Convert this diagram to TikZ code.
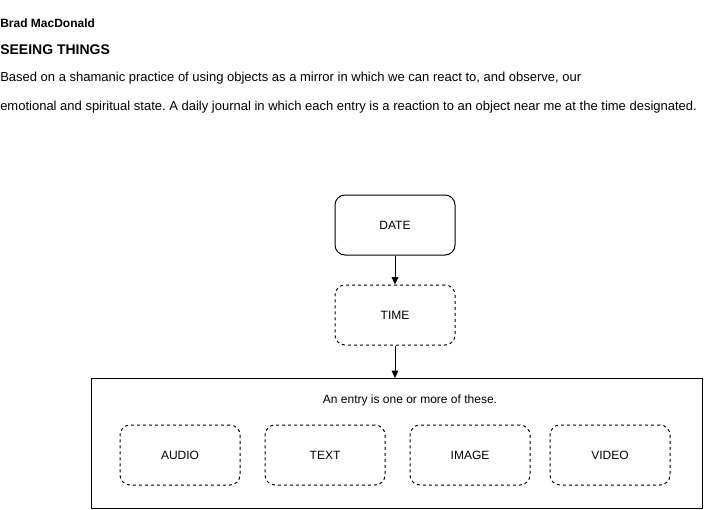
\documentclass[tikz,border=0pt]{standalone}
\usepackage{fontspec}
\setmainfont{Liberation Sans}
\usetikzlibrary{arrows.meta}
\frenchspacing
\begin{document}
\begin{tikzpicture}[x=0.75pt,y=-0.75pt,
  box/.style={draw,rounded corners=7.5pt,minimum width=90pt,minimum height=45pt,inner sep=0pt,font=\fontsize{9}{11}\selectfont,line width=0.75pt},
  dbox/.style={box,dashed,dash pattern=on 2.25pt off 2.25pt},
  arr/.style={-{Triangle[length=5.5pt,width=5pt]},line width=0.75pt},
  txt/.style={anchor=west,inner sep=0pt}]
\useasboundingbox (0,0) rectangle (721,510);
\node[txt,font=\fontsize{9}{11}\selectfont\bfseries] (author) at (0,23) {Brad MacDonald};
\node[txt,font=\fontsize{10.5}{12}\selectfont\bfseries] (title) at (0,50) {SEEING THINGS};
\node[txt,font=\fontsize{9.75}{12}\selectfont] (l1) at (0,78) {Based on a shamanic practice of using objects as a mirror in which we can react to, and observe, our};
\node[txt,font=\fontsize{9.75}{12}\selectfont] (l2) at (0,107) {emotional and spiritual state. A daily journal in which each entry is a reaction to an object near me at the time designated.};
\node[box] (date) at (395,225) {DATE};
\node[dbox] (time) at (395,315) {TIME};
\node[draw,line width=0.75pt,minimum width=458.25pt,minimum height=97.5pt,inner sep=0pt] (entry) at (396.5,443.5) {};
\node[font=\fontsize{9}{11}\selectfont,inner sep=0pt] (cap) at (410,400) {An entry is one or more of these.};
\node[dbox] (audio) at (180,455) {AUDIO};
\node[dbox] (text) at (325,455) {TEXT};
\node[dbox] (image) at (470,455) {IMAGE};
\node[dbox] (video) at (610,455) {VIDEO};
\draw[arr] (date.south) -- (time.north);
\draw[arr] (time.south) -- (time.south |- entry.north);
\end{tikzpicture}
\end{document}
